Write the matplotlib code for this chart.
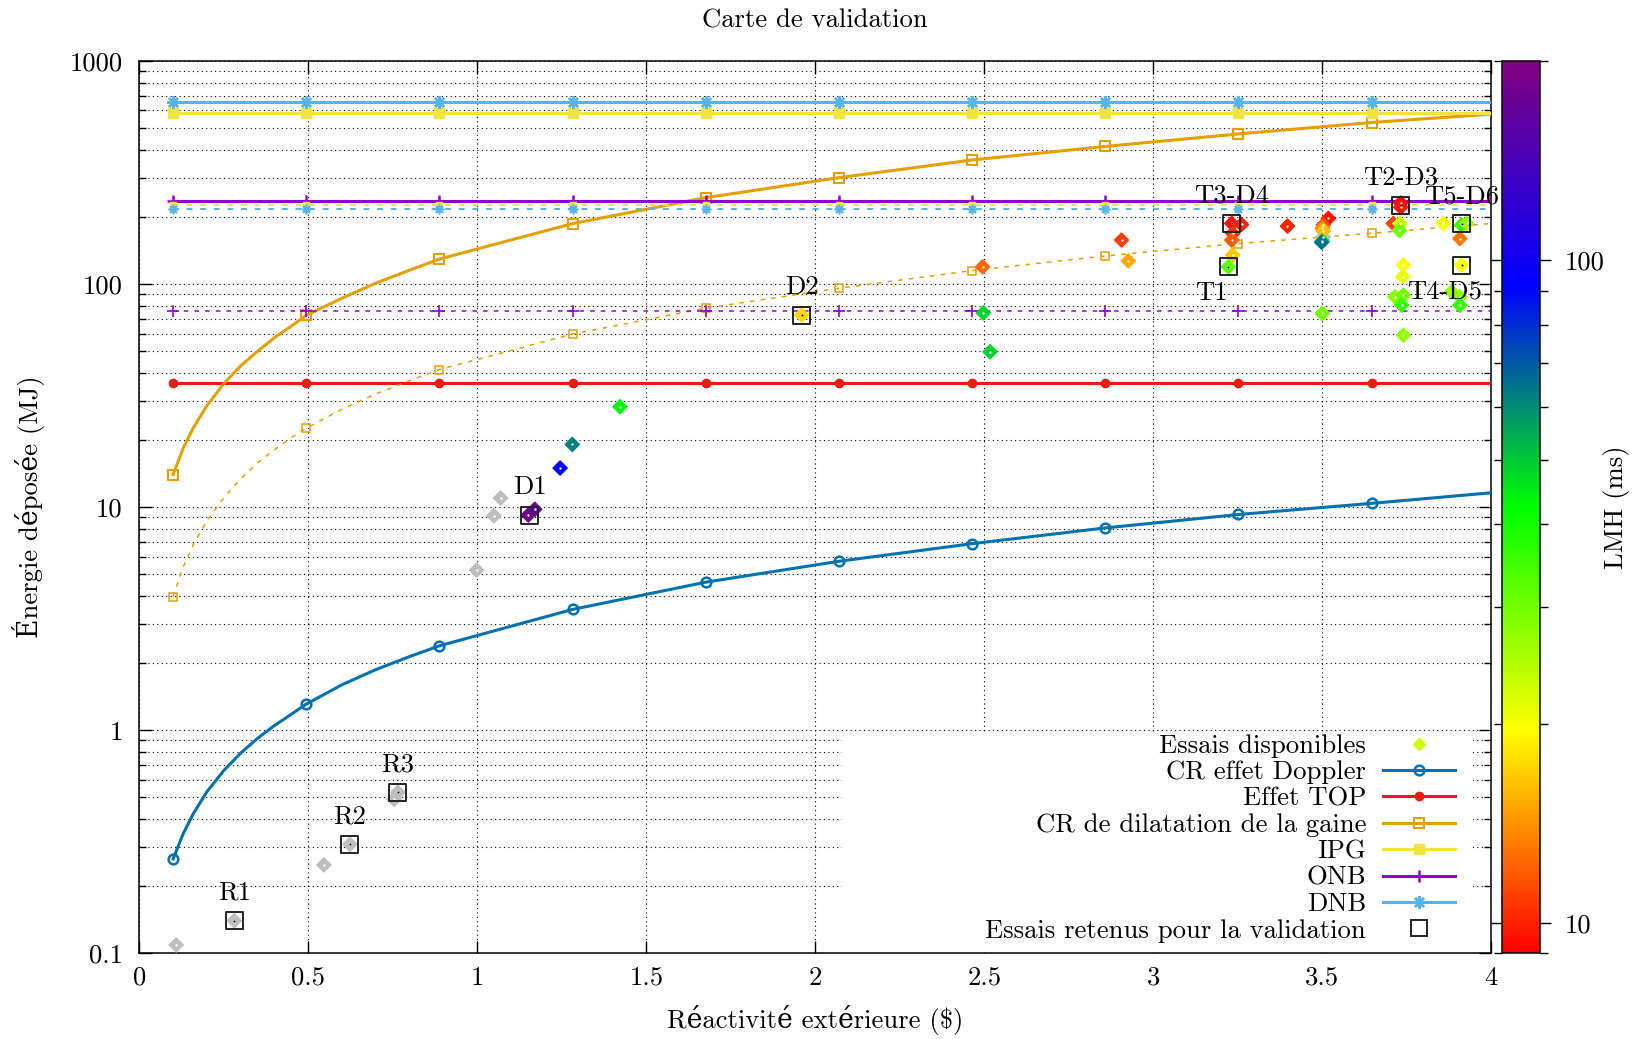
import numpy as np
import matplotlib
matplotlib.use('Agg')
import matplotlib.pyplot as plt
from matplotlib.colors import LinearSegmentedColormap, LogNorm
from matplotlib.lines import Line2D
from matplotlib.patches import Rectangle
from matplotlib.ticker import LogLocator, NullFormatter, FixedLocator

plt.rcParams['font.family'] = ['cmr10', 'DejaVu Serif']
plt.rcParams['axes.formatter.use_mathtext'] = True
plt.rcParams['mathtext.fontset'] = 'cm'
plt.rcParams['font.size'] = 19.2

# courbes
x_fine = [0.1, 0.13, 0.16, 0.2, 0.25, 0.3, 0.35, 0.4, 0.45, 0.494, 0.6, 0.7, 0.8,
          0.888, 1.282, 1.676, 2.07, 2.464, 2.858, 3.252, 3.646, 4.0]
mark_idx = [0, 9, 13, 14, 15, 16, 17, 18, 19, 20]
doppler = [0.265, 0.344, 0.423, 0.53, 0.66, 0.79, 0.92, 1.05, 1.18, 1.31, 1.60, 1.87, 2.14,
           2.39, 3.48, 4.61, 5.72, 6.86, 8.07, 9.27, 10.4, 11.6]
gaine = [14, 18.4, 22.7, 28.5, 35.8, 43, 50, 57.5, 64.8, 72.4, 86.5, 101, 115.5,
         129.5, 186.7, 244, 300, 360, 414, 471, 530, 578]
gaine_bas = [3.96, 5.4, 6.8, 8.7, 11.0, 13.4, 15.8, 18.1, 20.5, 22.6, 27.5, 32.2, 36.9,
             41.4, 59.7, 78, 95.8, 115, 133.7, 152, 169, 187]

# seuils constants
x_line = [0.1, 0.494, 0.888, 1.282, 1.676, 2.07, 2.464, 2.858, 3.252, 3.646, 4.0]
top = [35.9] * len(x_line)
ipg = [582] * len(x_line)
onb = [236] * len(x_line)
dnb = [656] * len(x_line)
ipg_bas = [226] * len(x_line)
onb_bas = [75.4] * len(x_line)
dnb_bas = [218] * len(x_line)

# essais disponibles : x ($), energie (MJ), LMH (ms), nan = pas de LMH
nan = np.nan
ess_x = [0.109, 0.281, 0.546, 0.623, 0.754, 0.765, 0.998, 1.049, 1.069, 3.503,
         1.151, 1.170, 1.245, 1.281, 1.422, 1.96, 2.495, 2.497, 2.517, 2.906, 2.926,
         3.232, 3.261, 3.235, 3.232, 3.235, 3.222, 3.397, 3.518, 3.503, 3.50, 3.503,
         3.50, 3.498, 3.50, 3.732, 3.732, 3.710, 3.730, 3.728, 3.740, 3.738, 3.715,
         3.740, 3.735, 3.740, 3.858, 3.912, 3.927, 3.907, 3.912, 3.883, 3.907, 3.907]
ess_y = [0.109, 0.140, 0.249, 0.308, 0.490, 0.527, 5.22, 9.15, 10.98, 163,
         9.22, 9.78, 14.97, 19.1, 28.2, 72.6, 119.5, 74.3, 49.7, 157.5, 127.2,
         187, 185, 168.7, 157.5, 135, 119.5, 182, 197, 184, 177.7, 173,
         156, 154, 73.9, 231, 221, 187, 187, 174, 121.7, 108, 87.7,
         89.3, 80.5, 59, 187, 184, 187, 160, 121.7, 92.4, 87.7, 80.5]
ess_lmh = [nan, nan, nan, nan, nan, nan, nan, nan, nan, nan,
           180, 170, 92, 62, 43, 17.5, 12.3, 48, 48, 10.9, 14.9,
           9.5, 10, 10.5, 12, 16.5, 32, 10, 9.5, 11.5, 14, 16,
           45, 65, 30, 9.2, 9.5, 11, 23, 30, 20, 21, 28,
           30, 36, 27, 20, 36, 27, 13, 20, 27, 28, 36]

# essais retenus pour la validation
ret_x = [0.281, 0.623, 0.765, 1.155, 1.96, 3.222, 3.732, 3.232, 3.912, 3.912]
ret_y = [0.140, 0.308, 0.527, 9.2, 72.6, 119.5, 226, 187, 121.7, 186]
ret_lab = ['R1', 'R2', 'R3', 'D1', 'D2', 'T1', 'T2-D3', 'T3-D4', 'T4-D5', 'T5-D6']

cmap = LinearSegmentedColormap.from_list('lmh', [(0, (1, 0, 0)), (0.25, (1, 1, 0)),
                                                 (0.5, (0, 1, 0)), (0.75, (0, 0, 1)),
                                                 (1, (0.5, 0, 0.5))])
cmap.set_bad('#bebebe')
norm = LogNorm(vmin=9, vmax=200)

fig = plt.figure(figsize=(16.34, 10.39), dpi=100)
ax = fig.add_axes([139.3 / 1634, 1 - 953.3 / 1039, 1352 / 1634, 892.3 / 1039])
cax = fig.add_axes([1502 / 1634, 1 - 953.3 / 1039, 38 / 1634, 892.3 / 1039])

ax.set_xlim(0, 4)
ax.set_yscale('log')
ax.set_ylim(0.1, 1000)

dot = (0, (1, 3))
ax.grid(True, which='both', axis='y', ls=dot, color='black', lw=0.8)
ax.grid(True, which='major', axis='x', ls=dot, color='black', lw=0.8)
ax.set_axisbelow(True)

# fond blanc de la legende (cache la grille)
ax.add_patch(Rectangle(((842 - 139.3) / 1352, 0), (1473 - 842) / 1352, (953.3 - 732) / 892.3,
                       transform=ax.transAxes, facecolor='white', edgecolor='none', zorder=1))

lw = 2.2
ax.plot(x_fine, doppler, color='#0072b2', lw=lw, marker='o', mfc='none', ms=7, mew=1.8,
        markevery=mark_idx, zorder=3)
ax.plot(x_line, top, color='#e51e10', lw=lw, marker='o', ms=6, markevery=slice(0, 10), zorder=3)
ax.plot(x_fine, gaine, color='#e69f00', lw=lw, marker='s', mfc='none', ms=7, mew=1.5,
        markevery=mark_idx, zorder=3)
ax.plot(x_line, ipg, color='#f0e442', lw=lw, marker='s', ms=7, markevery=slice(0, 10), zorder=3)
ax.plot(x_line, onb, color='#9400d3', lw=lw, marker='+', ms=9, mew=1.8, markevery=slice(0, 10), zorder=3)
ax.plot(x_line, dnb, color='#56b4e9', lw=lw, marker=(8, 2, 0), ms=9, mew=1.8,
        markevery=slice(0, 10), zorder=3)

dash = (0, (3, 4))
ax.plot(x_fine, gaine_bas, color='#e69f00', lw=1.1, ls=dash, marker='s', mfc='none', ms=6, mew=1.1,
        markevery=mark_idx, zorder=3)
ax.plot(x_line, ipg_bas, color='#f0e442', lw=1.4, ls=dash, marker='s', ms=5, markevery=slice(0, 10), zorder=3)
ax.plot(x_line, dnb_bas, color='#56b4e9', lw=1.4, ls=dash, marker=(8, 2, 0), ms=7, mew=1.2,
        markevery=slice(0, 10), zorder=3)
ax.plot(x_line, onb_bas, color='#9400d3', lw=1.1, ls=dash, marker='+', ms=8, mew=1.2,
        markevery=slice(0, 10), zorder=3)

sc = ax.scatter(ess_x, ess_y, c=ess_lmh, cmap=cmap, norm=norm, marker='D', s=52,
                linewidths=1.0, edgecolors='face', plotnonfinite=True, zorder=4)
ax.scatter(ess_x, ess_y, c='white', marker='o', s=3, linewidths=0, zorder=5)

ax.scatter(ret_x, ret_y, marker='s', s=150, facecolors='none', edgecolors='#222222',
           linewidths=1.4, zorder=6)
ax.scatter(ret_x, ret_y, c='black', marker='o', s=2, linewidths=0, zorder=6)

for xx, yy, lab in zip(ret_x, ret_y, ret_lab):
    if lab in ('T1', 'T4-D5'):
        off = (-12, -19)
    else:
        off = (0, 20)
    ax.annotate(lab, (xx, yy), xytext=off, textcoords='offset points', ha='center', va='center',
                zorder=7, annotation_clip=False)

ax.set_xticks([0, 0.5, 1, 1.5, 2, 2.5, 3, 3.5, 4])
ax.set_xticklabels(['0', '0.5', '1', '1.5', '2', '2.5', '3', '3.5', '4'])
ax.yaxis.set_major_locator(FixedLocator([0.1, 1, 10, 100, 1000]))
ax.set_yticklabels(['0.1', '1', '10', '100', '1000'])
ax.yaxis.set_minor_locator(LogLocator(base=10, subs=range(2, 10)))
ax.yaxis.set_minor_formatter(NullFormatter())
ax.tick_params(which='both', direction='in', top=True, right=True, width=1)
ax.tick_params(which='major', length=9)
ax.tick_params(which='minor', length=5)
ax.tick_params(axis='y', pad=12)
ax.tick_params(axis='x', pad=9)
for s in ax.spines.values():
    s.set_linewidth(1.1)

ax.set_xlabel('Réactivité extérieure ($)', va='center')
ax.xaxis.set_label_coords(0.5, -(1020 - 953.3) / 892.3)
ax.set_ylabel('Énergie déposée (MJ)', va='center')
ax.yaxis.set_label_coords((29 - 139.3) / 1352, 0.5)
fig.text(815.3 / 1634, 1 - 21 / 1039, 'Carte de validation', ha='center', va='center')

cb = fig.colorbar(sc, cax=cax)
cb.set_ticks([10, 100])
cb.set_ticklabels(['10', '100'])
cax.yaxis.set_minor_locator(LogLocator(base=10, subs=range(2, 10)))
cax.yaxis.set_minor_formatter(NullFormatter())
cax.tick_params(which='both', direction='out', left=True, right=True, width=1)
cax.tick_params(which='major', length=8, pad=10)
cax.tick_params(which='minor', length=6)
cb.outline.set_linewidth(1.1)
cb.set_label('LMH (ms)', va='center')
cax.yaxis.set_label_coords((1617 - 1502) / 38, 0.5)

handles = [
    Line2D([], [], ls='none', marker='D', ms=6.5, color=(0.8, 1, 0)),
    Line2D([], [], color='#0072b2', lw=lw, marker='o', mfc='none', ms=7, mew=1.8),
    Line2D([], [], color='#e51e10', lw=lw, marker='o', ms=6),
    Line2D([], [], color='#e69f00', lw=lw, marker='s', mfc='none', ms=7, mew=1.5),
    Line2D([], [], color='#f0e442', lw=lw, marker='s', ms=7),
    Line2D([], [], color='#9400d3', lw=lw, marker='+', ms=9, mew=1.8),
    Line2D([], [], color='#56b4e9', lw=lw, marker=(8, 2, 0), ms=9, mew=1.8),
    Line2D([], [], ls='none', marker='s', ms=12, mfc='none', mec='#222222', mew=1.4),
]
labels = ['Essais disponibles', 'CR effet Doppler', 'Effet TOP', 'CR de dilatation de la gaine',
          'IPG', 'ONB', 'DNB', 'Essais retenus pour la validation']
leg = ax.legend(handles, labels, loc='lower right', bbox_to_anchor=((1466 - 139.3) / 1352, 0.0),
                markerfirst=False, frameon=False, labelspacing=0.1, handlelength=2.7,
                handletextpad=0.65, borderpad=0.4, borderaxespad=0)
leg.set_zorder(8)

fig.savefig('out.png', dpi=100)
plt.close(fig)
